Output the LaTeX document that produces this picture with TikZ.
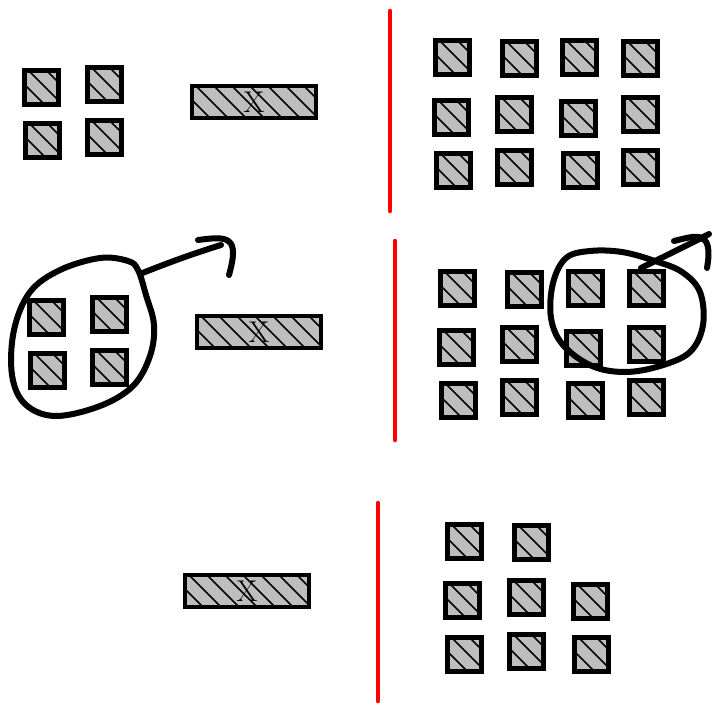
\documentclass[tikz,border=0pt]{standalone}
\usetikzlibrary{calc}
\definecolor{boxgray}{RGB}{190,190,190}
\tikzset{
  hatchbase/.style={draw=black, fill=boxgray, inner sep=0pt, outer sep=0pt,
    path picture={\foreach \i in {-8,...,8}
      \draw[line width=1.6pt, black] ([xshift=\i*18pt+4pt]path picture bounding box.north west) -- ++(60pt,-60pt);}},
  sq/.style={hatchbase, line width=5pt, minimum width=34pt, minimum height=34pt},
  bar/.style={hatchbase, line width=4.5pt, minimum width=124pt, minimum height=32pt,
    font=\fontsize{30}{30}\selectfont},
  redline/.style={red, line width=4.5pt, line cap=round},
  sketch/.style={black, line width=6pt, line cap=round, line join=round},
}
\begin{document}
\begin{tikzpicture}[x=1pt,y=-1pt]
\useasboundingbox (0,0) rectangle (714,704);
% ---------- top row ----------
\node[sq] (a1) at (41,87) {};
\node[sq] (a2) at (104,84) {};
\node[sq] (a3) at (42,140) {};
\node[sq] (a4) at (104,137) {};
\node[bar] (abar) at (254,102) {X};
\coordinate (r1t) at (390,11);
\coordinate (r1b) at (390,211);
\draw[redline] (r1t) -- (r1b);
\foreach \n/\x/\y in {b1/452/57, b2/519/58, b3/579/57, b4/640/58,
                      b5/451/117, b6/514/114, b7/578/118, b8/640/114,
                      b9/453/170, b10/514/167, b11/580/170, b12/640/167}
  \node[sq] (\n) at (\x,\y) {};
% ---------- middle row ----------
\node[sq] (c1) at (46,317) {};
\node[sq] (c2) at (109,314) {};
\node[sq] (c3) at (47,370) {};
\node[sq] (c4) at (109,367) {};
\node[bar] (cbar) at (259,332) {X};
\coordinate (r2t) at (395,241);
\coordinate (r2b) at (395,440);
\draw[redline] (r2t) -- (r2b);
\foreach \n/\x/\y in {d1/457/288, d2/524/289, d3/585/288, d4/646/288,
                      d5/456/347, d6/519/344, d7/583/348, d8/646/344,
                      d9/458/400, d10/519/397, d11/585/400, d12/646/397}
  \node[sq] (\n) at (\x,\y) {};
% hand-drawn loop and arrow, left
\draw[sketch] plot[smooth cycle, tension=0.6] coordinates {
  (138,270) (128,261) (100,258) (60,270) (30,292) (14,330) (12,375)
  (25,404) (55,416) (100,406) (133,386) (150,356) (154,325) (146,295)};
\coordinate (la0) at (140,274);
\coordinate (la1) at (221,245);
\draw[sketch] (la0) .. controls (170,262) and (195,253) .. (la1);
\draw[sketch] (198,240) .. controls (228,236) and (240,236) .. (229,275);
% hand-drawn loop and arrow, right
\draw[sketch] plot[smooth cycle, tension=0.6] coordinates {
  (655,261) (622,252) (590,251) (566,258) (553,283) (551,318) (563,345)
  (592,366) (625,372) (660,366) (690,352) (703,325) (700,292) (682,272)};
\coordinate (ra0) at (641,268);
\coordinate (ra1) at (709,234);
\draw[sketch] (ra0) .. controls (665,256) and (690,244) .. (ra1);
\draw[sketch] (674,241) .. controls (695,236) and (714,228) .. (707,268);
% ---------- bottom row ----------
\node[bar] (ebar) at (247,591) {X};
\coordinate (r3t) at (378,503);
\coordinate (r3b) at (378,701);
\draw[redline] (r3t) -- (r3b);
\foreach \n/\x/\y in {f1/464/541, f2/531/542,
                      f3/462/600, f4/526/597, f5/590/601,
                      f6/464/654, f7/526/651, f8/591/654}
  \node[sq] (\n) at (\x,\y) {};
\end{tikzpicture}
\end{document}
